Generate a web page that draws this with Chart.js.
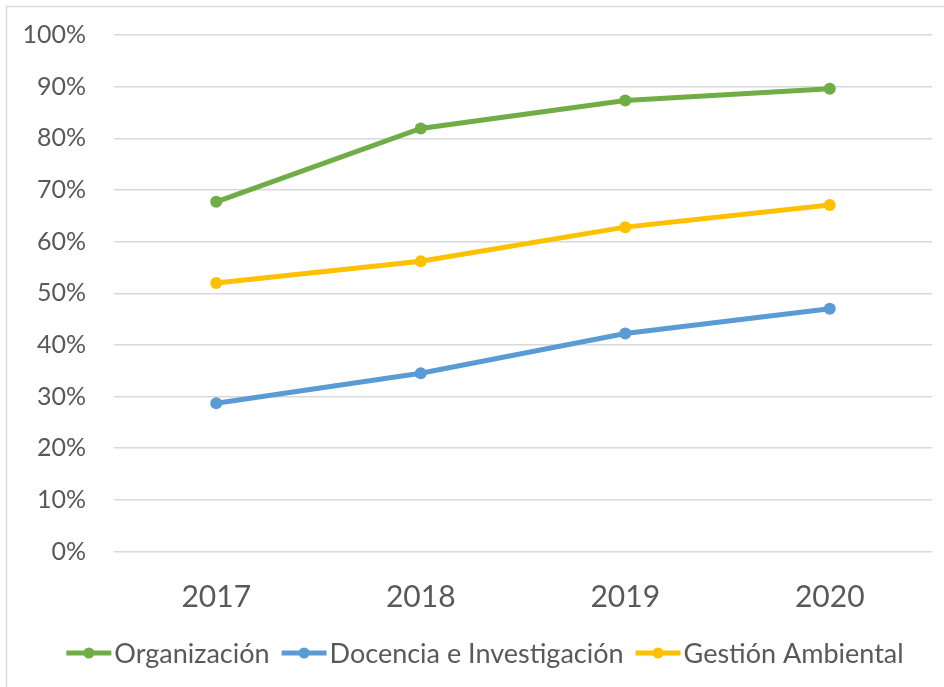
<!DOCTYPE html>
<html>
<head>
<meta charset="utf-8">
<script src="https://cdn.jsdelivr.net/npm/chart.js@4/dist/chart.umd.min.js"></script>
<style>
  html, body { margin: 0; padding: 0; background: #ffffff; }
  #wrap { width: 944px; height: 687px; position: relative; }
</style>
</head>
<body>
<div id="wrap"><canvas id="c" width="944" height="687"></canvas></div>
<script>
const categories = ['2017', '2018', '2019', '2020'];
const seriesNames = ['Organización', 'Docencia e Investigación', 'Gestión Ambiental'];
const organizacion = [0.677, 0.819, 0.873, 0.896];
const docencia = [0.287, 0.345, 0.422, 0.470];
const gestion = [0.520, 0.562, 0.628, 0.671];
const seriesColors = ['#70AD47', '#5B9BD5', '#FFC000'];
const yTicks = [0, 0.1, 0.2, 0.3, 0.4, 0.5, 0.6, 0.7, 0.8, 0.9, 1.0];

const FONT = 'Lato, "Open Sans", "Liberation Sans", sans-serif';
const TEXT = '#595959';

const frame = {
  id: 'frame',
  beforeDraw(chart) {
    const ctx = chart.ctx;
    ctx.save();
    ctx.fillStyle = '#ffffff';
    ctx.fillRect(0, 0, chart.width, chart.height);
    ctx.strokeStyle = '#D9D9D9';
    ctx.lineWidth = 1.5;
    ctx.beginPath();
    ctx.moveTo(6.5, chart.height);
    ctx.lineTo(6.5, 6.5);
    ctx.lineTo(chart.width, 6.5);
    ctx.stroke();
    ctx.restore();
  }
};

const legendPlugin = {
  id: 'customLegend',
  afterDraw(chart) {
    const ctx = chart.ctx;
    ctx.save();
    ctx.font = '27px ' + FONT;
    const sym = 45, gapText = 3, gapItem = 12;
    const items = chart.data.datasets.map(d => ({
      label: d.label, color: d.borderColor, w: ctx.measureText(d.label).width
    }));
    let total = 0;
    items.forEach((it, i) => { total += sym + gapText + it.w + (i < items.length - 1 ? gapItem : 0); });
    let x = 485 - total / 2;
    const y = 653;
    ctx.textBaseline = 'middle';
    ctx.textAlign = 'left';
    items.forEach(it => {
      ctx.strokeStyle = it.color;
      ctx.lineWidth = 5;
      ctx.beginPath();
      ctx.moveTo(x, y);
      ctx.lineTo(x + sym, y);
      ctx.stroke();
      ctx.fillStyle = it.color;
      ctx.beginPath();
      ctx.arc(x + sym / 2, y, 5.5, 0, Math.PI * 2);
      ctx.fill();
      ctx.fillStyle = TEXT;
      ctx.fillText(it.label, x + sym + gapText, y + 1);
      x += sym + gapText + it.w + gapItem;
    });
    ctx.restore();
  }
};

const dataArrays = [organizacion, docencia, gestion];
const datasets = dataArrays.map((arr, i) => ({
  label: seriesNames[i],
  data: arr,
  borderColor: seriesColors[i],
  backgroundColor: seriesColors[i],
  borderWidth: 5,
  pointRadius: 6,
  pointHoverRadius: 6,
  pointBorderWidth: 0,
  tension: 0,
  fill: false
}));

new Chart(document.getElementById('c'), {
  type: 'line',
  data: { labels: categories, datasets },
  options: {
    responsive: false,
    animation: false,
    layout: { padding: { top: 35, right: 12, left: 0, bottom: 72 } },
    plugins: { legend: { display: false }, tooltip: { enabled: false } },
    scales: {
      x: {
        offset: true,
        grid: { display: false, drawTicks: false },
        border: { display: false },
        afterFit(scale) { scale.height = 63.5; },
        ticks: { color: TEXT, font: { family: FONT, size: 30 }, padding: 28 }
      },
      y: {
        min: 0,
        max: 1,
        afterBuildTicks(scale) { scale.ticks = yTicks.map(v => ({ value: v })); },
        afterFit(scale) { scale.width = 114; scale.paddingTop = 0; scale.paddingBottom = 0; },
        grid: { color: '#D9D9D9', lineWidth: 1.5, drawTicks: false },
        border: { display: false },
        ticks: {
          color: TEXT,
          font: { family: FONT, size: 25 },
          padding: 28,
          callback: v => Math.round(v * 100) + '%'
        }
      }
    }
  },
  plugins: [frame, legendPlugin]
});
</script>
</body>
</html>
